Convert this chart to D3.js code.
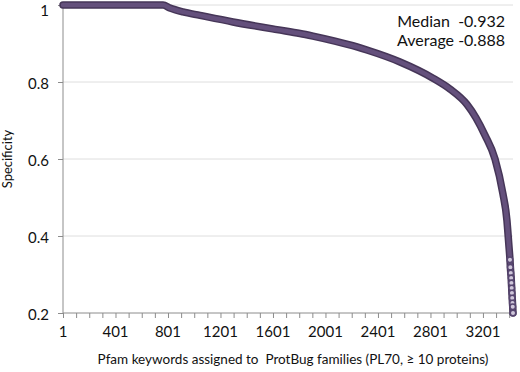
<!DOCTYPE html>
<html>
<head>
<meta charset="utf-8">
<script src="https://cdn.jsdelivr.net/npm/d3@7"></script>
<style>
  body { margin: 0; background: #fff; }
  text { font-family: Lato, "Open Sans", sans-serif; fill: #111; }
</style>
</head>
<body>
<div id="chart"></div>
<script>
// keyword rank (sorted by specificity) and specificity
var rank = [1, 200, 400, 600, 763, 816, 915, 1045, 1296, 1631, 1807, 1906, 2073, 2241, 2317,
            2569, 2820, 2949, 3079, 3148, 3216, 3293, 3353, 3384, 3391, 3400,
            3407, 3410, 3413, 3416, 3418, 3420, 3422, 3424, 3426, 3428, 3430];
var specificity = [1, 1, 1, 1, 1, 0.992, 0.982, 0.973, 0.956, 0.936, 0.926, 0.919, 0.906, 0.891, 0.883,
                   0.852, 0.810, 0.782, 0.742, 0.707, 0.662, 0.600, 0.510, 0.440, 0.410, 0.370,
                   0.338, 0.319, 0.304, 0.291, 0.278, 0.265, 0.252, 0.239, 0.226, 0.216, 0.200];
var yTicks = [0.2, 0.4, 0.6, 0.8, 1];
var xLabelTicks = [1, 401, 801, 1201, 1601, 2001, 2401, 2801, 3201];
var statLines = ["Median  -0.932", "Average -0.888"];

function drawChart() {
    var width = 520, height = 372;
    var plotLeft = 63, plotRight = 513, plotTop = 5, plotBottom = 313;

    var data = rank.map(function (r, i) { return {r: r, v: specificity[i]}; });

    var svg = d3.select("#chart").append("svg")
        .attr("width", width)
        .attr("height", height);

    var x = d3.scaleLinear().domain([1, 3430]).range([plotLeft, plotRight]);
    var y = d3.scaleLinear().domain([0.2, 1]).range([plotBottom, plotTop]);

    //Gridlines
    svg.selectAll(".grid")
        .data(yTicks.filter(function (d) { return d > 0.2; }))
        .enter().append("line")
        .attr("x1", plotLeft).attr("x2", plotRight)
        .attr("y1", function (d) { return y(d); })
        .attr("y2", function (d) { return y(d); })
        .style("stroke", "#dedede")
        .style("stroke-width", 1);

    //Y axis
    var yAxis = svg.append("g")
        .attr("transform", "translate(" + plotLeft + ",0)")
        .call(d3.axisLeft(y).tickValues(yTicks).tickSize(5).tickPadding(9)
            .tickFormat(function (d) { return d === 1 ? "1" : d3.format(".1f")(d); }));
    yAxis.select(".domain").attr("d", "M0," + plotTop + "V" + plotBottom).style("stroke", "#8c8c8c");
    yAxis.selectAll(".tick line").style("stroke", "#8c8c8c");
    yAxis.selectAll("text").style("font-size", "15px").style("fill", "#111")
        .style("font-family", "Lato, sans-serif")
        .attr("dy", function (d) { return d === 1 ? "0.72em" : "0.4em"; });

    //X axis: ticks every 100 keywords, labels every 400
    var xAxis = svg.append("g")
        .attr("transform", "translate(0," + plotBottom + ")")
        .call(d3.axisBottom(x).tickValues(d3.range(1, 3430, 100)).tickSize(5).tickFormat(""));
    xAxis.select(".domain").attr("d", "M" + plotLeft + ",0H" + plotRight).style("stroke", "#8c8c8c");
    xAxis.selectAll(".tick line").style("stroke", "#8c8c8c");

    svg.selectAll(".xlabel")
        .data(xLabelTicks)
        .enter().append("text")
        .attr("x", function (d) { return x(d); })
        .attr("y", 337)
        .attr("text-anchor", "middle")
        .style("font-size", "15px")
        .text(function (d) { return d; });

    //Curve: dark outline then lighter body
    var line = d3.line()
        .x(function (d) { return x(d.r); })
        .y(function (d) { return y(d.v); })
        .curve(d3.curveMonotoneX);

    svg.append("path")
        .datum(data)
        .attr("d", line)
        .style("fill", "none")
        .style("stroke", "#463658")
        .style("stroke-width", 7.5)
        .style("stroke-linecap", "round")
        .style("stroke-linejoin", "round");

    svg.append("path")
        .datum(data)
        .attr("d", line)
        .style("fill", "none")
        .style("stroke", "#64507c")
        .style("stroke-width", 4.5)
        .style("stroke-linecap", "round")
        .style("stroke-linejoin", "round");

    //Individual markers in the sparse tail
    svg.selectAll(".pt")
        .data(data.filter(function (d) { return d.v < 0.35; }))
        .enter().append("circle")
        .attr("cx", function (d) { return x(d.r); })
        .attr("cy", function (d) { return y(d.v); })
        .attr("r", 2.8)
        .style("fill", "#cfc6da")
        .style("stroke", "#574670")
        .style("stroke-width", 1.6);

    //Stats annotation
    svg.selectAll(".stat")
        .data(statLines)
        .enter().append("text")
        .attr("x", 505)
        .attr("y", function (d, i) { return 27 + i * 19; })
        .attr("text-anchor", "end")
        .style("font-size", "16px")
        .style("white-space", "pre")
        .text(function (d) { return d; });

    //Axis titles
    svg.append("text")
        .attr("transform", "translate(12,159) rotate(-90)")
        .attr("text-anchor", "middle")
        .style("font-size", "13px")
        .text("Specificity");

    svg.append("text")
        .attr("x", 293)
        .attr("y", 364)
        .attr("text-anchor", "middle")
        .style("font-size", "13.5px")
        .style("white-space", "pre")
        .text("Pfam keywords assigned to  ProtBug families (PL70, \u2265 10 proteins)");
}

drawChart();
</script>
</body>
</html>
